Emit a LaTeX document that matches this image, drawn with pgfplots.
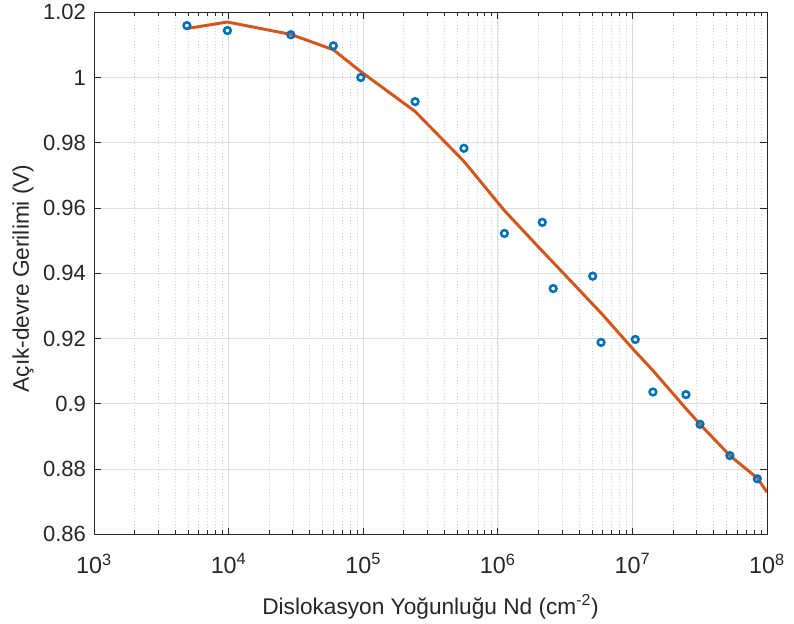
\documentclass[border=0pt]{standalone}
\usepackage{fontspec}
\setmainfont{Liberation Sans}
\usepackage{pgfplots}
\pgfplotsset{compat=1.18}
\definecolor{mblue}{RGB}{0,114,189}
\definecolor{morange}{RGB}{217,83,25}
\definecolor{axgray}{RGB}{38,38,38}
\definecolor{gridc}{RGB}{222,222,222}
\definecolor{mgridc}{RGB}{210,210,210}
\pgfplotstableread{
x y
4.9e3 1.0159
9.8e3 1.0144
2.9e4 1.0131
6.0e4 1.0097
9.6e4 1.0000
2.43e5 0.9926
5.6e5 0.9783
1.12e6 0.9522
2.14e6 0.9556
2.58e6 0.9353
5.07e6 0.9391
5.85e6 0.9188
1.05e7 0.9197
1.42e7 0.9036
2.5e7 0.9028
3.18e7 0.8937
5.3e7 0.8841
8.47e7 0.8770
}\measured
\pgfplotstableread{
x y
4.9e3 1.0150
9.8e3 1.0170
2.9e4 1.0132
6.0e4 1.0085
9.6e4 1.0018
2.43e5 0.9896
5.6e5 0.9743
1.12e6 0.9592
2.14e6 0.9468
2.58e6 0.9433
5.07e6 0.9305
5.85e6 0.9278
1.05e7 0.9160
1.42e7 0.9102
2.5e7 0.8985
3.18e7 0.8937
5.3e7 0.8841
8.47e7 0.8772
1e8 0.8729
}\fitted
\begin{document}
\begin{tikzpicture}
\begin{axis}[
  xmode=log,
  scale only axis,
  width=504.75pt, height=391.5pt,
  xmin=1e3, xmax=1e8,
  ymin=0.86, ymax=1.02,
  xtick={1e3,1e4,1e5,1e6,1e7,1e8},
  xticklabels={10\textsuperscript{3},10\textsuperscript{4},10\textsuperscript{5},10\textsuperscript{6},10\textsuperscript{7},10\textsuperscript{8}},
  ytick={0.86,0.88,0.9,0.92,0.94,0.96,0.98,1,1.02},
  yticklabels={0.86,0.88,0.9,0.92,0.94,0.96,0.98,1,1.02},
  yticklabel style={font=\fontsize{16.5}{19}\selectfont, text=axgray, xshift=-2.5pt},
  xticklabel style={font=\fontsize{17.5}{20}\selectfont, text=axgray, yshift=-11pt},
  label style={font=\fontsize{17}{20}\selectfont, text=axgray},
  xlabel={Dislokasyon Yoğunluğu Nd (cm\textsuperscript{-2})},
  ylabel={Açık-devre Gerilimi (V)},
  xlabel style={at={(axis description cs:0.5,-0.153)}, anchor=base},
  ylabel style={at={(axis description cs:-0.1055,0.49)}, anchor=center, rotate=0},
  axis line style={axgray, line width=0.6pt},
  tick style={axgray, line width=0.5pt},
  major tick length=5pt,
  minor tick length=3pt,
  tick align=inside,
  xmajorgrids, ymajorgrids, xminorgrids,
  major grid style={gridc, line width=0.5pt},
  minor grid style={mgridc, dotted, line width=0.4pt},
  clip=true,
]
\addplot[only marks, mark=o, mark size=2.5pt, mark options={draw=mblue, line width=1.9pt}] table[x=x,y=y]{\measured};
\addplot[morange, line width=2.2pt, line join=round] table[x=x,y=y]{\fitted};
\end{axis}
\path (current axis.south west) ++(-70.5pt,-66.75pt) coordinate (bbA);
\path (current axis.north east) ++(20.25pt,8.25pt) coordinate (bbB);
\path (bbA) rectangle (bbB);
\end{tikzpicture}
\end{document}
